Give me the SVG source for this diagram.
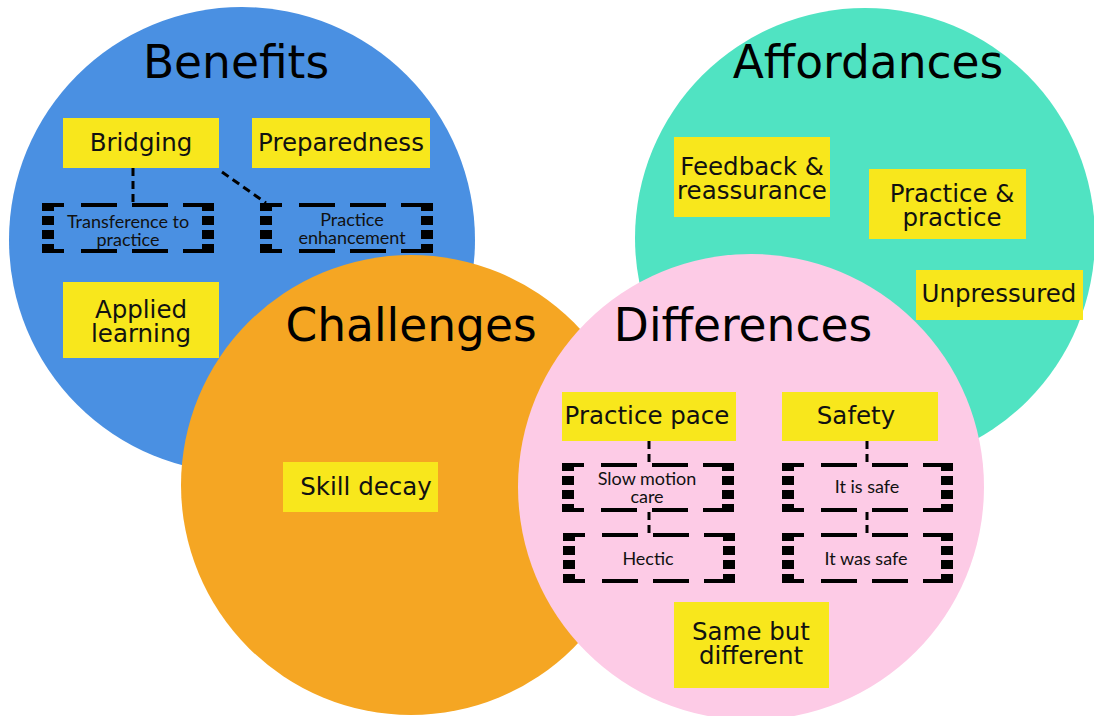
<svg xmlns="http://www.w3.org/2000/svg" width="1094" height="716" viewBox="0 0 1094 716">
  <style>
    .title { font-family: "DejaVu Sans", "Liberation Sans", sans-serif; font-size: 45.5px; fill: #000; text-anchor: middle; }
    .label { font-family: "DejaVu Sans", "Liberation Sans", sans-serif; font-size: 24.5px; fill: #111; text-anchor: middle; }
    .small { font-family: Lato, "Liberation Sans", sans-serif; font-size: 18px; fill: #111; text-anchor: middle; }
    .note { fill: #F8E71C; }
    .dh { stroke: #000; stroke-width: 4; stroke-dasharray: 22 17 36 15 36 15 40; fill: none; }
    .dv { stroke: #000; stroke-width: 12; stroke-dasharray: 8 5 9 5 9 5 9; fill: none; }
    .link { stroke: #000; stroke-width: 3; stroke-dasharray: 8 5; fill: none; }
  </style>

  <rect width="1094" height="716" fill="#fff"/>

  <!-- category circles -->
  <g id="benefits">
    <circle cx="242" cy="240" r="233" fill="#4A90E2"/>
    <text class="title" x="236" y="78">Benefits</text>
  </g>
  <g id="affordances">
    <circle cx="865" cy="238" r="230" fill="#50E3C2"/>
    <text class="title" x="868" y="78">Affordances</text>
  </g>
  <g id="challenges">
    <circle cx="411" cy="485" r="230" fill="#F5A623"/>
    <text class="title" x="411" y="341">Challenges</text>
  </g>
  <g id="differences">
    <circle cx="751" cy="487" r="233" fill="#FDCBE6"/>
    <text class="title" x="743" y="341">Differences</text>
  </g>

  <!-- connectors -->
  <g id="connectors">
    <line class="link" x1="133" y1="168" x2="133" y2="204"/>
    <line class="link" x1="222" y1="172" x2="266" y2="203"/>
    <line class="link" x1="649" y1="441" x2="649" y2="464"/>
    <line class="link" x1="649" y1="512" x2="649" y2="534"/>
    <line class="link" x1="867" y1="441" x2="867" y2="464"/>
    <line class="link" x1="867" y1="512" x2="867" y2="534"/>
  </g>

  <!-- Benefits notes -->
  <g id="bridging">
    <rect class="note" x="63" y="118" width="156" height="50"/>
    <text class="label" x="141" y="151">Bridging</text>
  </g>
  <g id="preparedness">
    <rect class="note" x="252" y="118" width="178" height="50"/>
    <text class="label" x="341" y="151">Preparedness</text>
  </g>
  <g id="transference">
    <line class="dh" x1="42" y1="205" x2="214" y2="205"/>
    <line class="dh" x1="42" y1="251" x2="214" y2="251"/>
    <line class="dv" x1="48" y1="203" x2="48" y2="253"/>
    <line class="dv" x1="208" y1="203" x2="208" y2="253"/>
    <text class="small" x="128" y="228">Transference to</text>
    <text class="small" x="128" y="246">practice</text>
  </g>
  <g id="enhancement">
    <line class="dh" x1="260" y1="205" x2="433" y2="205"/>
    <line class="dh" x1="260" y1="251" x2="433" y2="251"/>
    <line class="dv" x1="266" y1="203" x2="266" y2="253"/>
    <line class="dv" x1="427" y1="203" x2="427" y2="253"/>
    <text class="small" x="352" y="226">Practice</text>
    <text class="small" x="352" y="244">enhancement</text>
  </g>
  <g id="applied-learning">
    <rect class="note" x="63" y="282" width="156" height="76"/>
    <text class="label" x="141" y="318">Applied</text>
    <text class="label" x="141" y="342">learning</text>
  </g>

  <!-- Affordances notes -->
  <g id="feedback">
    <rect class="note" x="674" y="137" width="156" height="80"/>
    <text class="label" x="752" y="175">Feedback &amp;</text>
    <text class="label" x="752" y="199">reassurance</text>
  </g>
  <g id="practice-practice">
    <rect class="note" x="869" y="169" width="157" height="70"/>
    <text class="label" x="952" y="202">Practice &amp;</text>
    <text class="label" x="952" y="226">practice</text>
  </g>
  <g id="unpressured">
    <rect class="note" x="916" y="270" width="167" height="50"/>
    <text class="label" x="999" y="302">Unpressured</text>
  </g>

  <!-- Challenges notes -->
  <g id="skill-decay">
    <rect class="note" x="283" y="462" width="155" height="50"/>
    <text class="label" x="366" y="495">Skill decay</text>
  </g>

  <!-- Differences notes -->
  <g id="practice-pace">
    <rect class="note" x="562" y="392" width="174" height="49"/>
    <text class="label" x="647" y="424">Practice pace</text>
  </g>
  <g id="safety">
    <rect class="note" x="782" y="392" width="156" height="49"/>
    <text class="label" x="856" y="424">Safety</text>
  </g>
  <g id="slow-motion">
    <line class="dh" x1="562" y1="465" x2="734" y2="465"/>
    <line class="dh" x1="562" y1="510" x2="734" y2="510"/>
    <line class="dv" x1="568" y1="463" x2="568" y2="512"/>
    <line class="dv" x1="728" y1="463" x2="728" y2="512"/>
    <text class="small" x="647" y="485">Slow motion</text>
    <text class="small" x="647" y="503">care</text>
  </g>
  <g id="hectic">
    <line class="dh" x1="563" y1="535" x2="735" y2="535"/>
    <line class="dh" x1="563" y1="581" x2="735" y2="581"/>
    <line class="dv" x1="569" y1="533" x2="569" y2="583"/>
    <line class="dv" x1="729" y1="533" x2="729" y2="583"/>
    <text class="small" x="648" y="565">Hectic</text>
  </g>
  <g id="it-is-safe">
    <line class="dh" x1="782" y1="465" x2="953" y2="465"/>
    <line class="dh" x1="782" y1="510" x2="953" y2="510"/>
    <line class="dv" x1="788" y1="463" x2="788" y2="512"/>
    <line class="dv" x1="947" y1="463" x2="947" y2="512"/>
    <text class="small" x="867" y="493">It is safe</text>
  </g>
  <g id="it-was-safe">
    <line class="dh" x1="782" y1="535" x2="953" y2="535"/>
    <line class="dh" x1="782" y1="581" x2="953" y2="581"/>
    <line class="dv" x1="788" y1="533" x2="788" y2="583"/>
    <line class="dv" x1="947" y1="533" x2="947" y2="583"/>
    <text class="small" x="866" y="565">It was safe</text>
  </g>
  <g id="same-but-different">
    <rect class="note" x="674" y="602" width="155" height="86"/>
    <text class="label" x="751" y="640">Same but</text>
    <text class="label" x="751" y="664">different</text>
  </g>
</svg>
